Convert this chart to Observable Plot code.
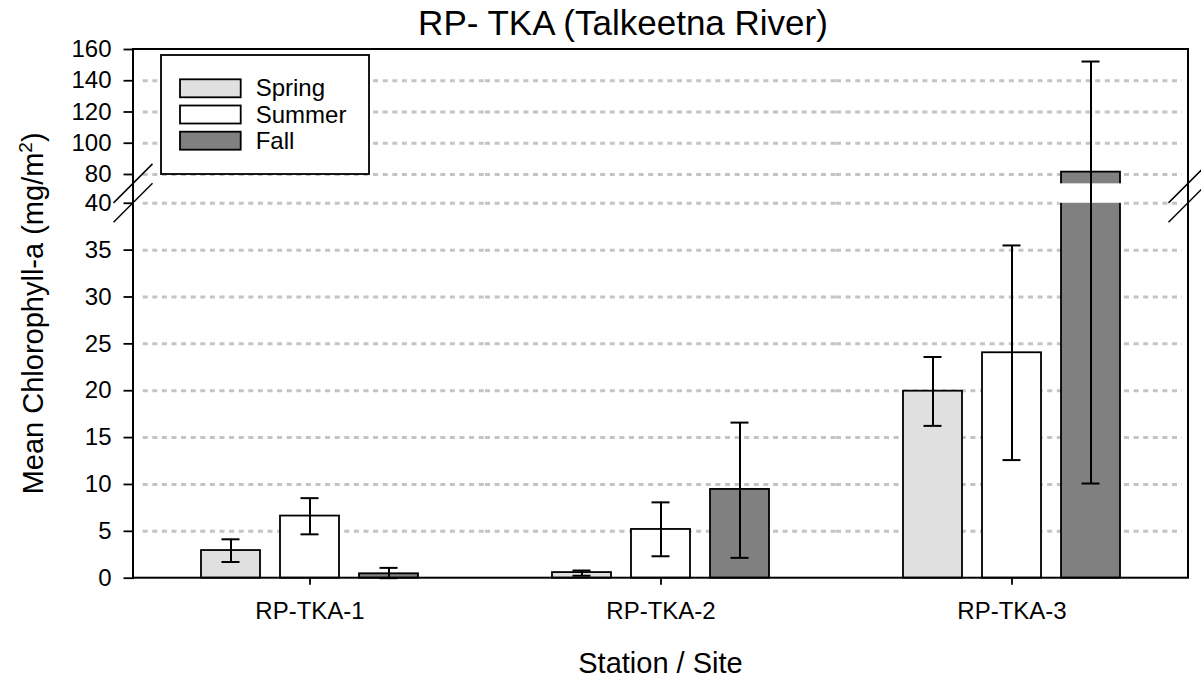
<!DOCTYPE html>
<html><head><meta charset="utf-8">
<script src="https://cdn.jsdelivr.net/npm/d3@7"></script>
<script src="https://cdn.jsdelivr.net/npm/@observablehq/plot@0.6"></script>
<style>
html,body{margin:0;padding:0;background:#fff;overflow:hidden;}
#chart{width:1201px;height:678px;}
</style></head><body><div id="chart"></div>
<script>
// ---- data ----
const stations = ["RP-TKA-1", "RP-TKA-2", "RP-TKA-3"];
const seasons = ["Spring", "Summer", "Fall"];
const seasonColors = ["#e0e0e0", "#ffffff", "#808080"];
const springMean = [2.95, 0.6, 19.95];
const springLow  = [1.73, 0.26, 16.25];
const springHigh = [4.15, 0.82, 23.6];
const summerMean = [6.63, 5.2, 24.05];
const summerLow  = [4.68, 2.34, 12.6];
const summerHigh = [8.54, 8.09, 35.5];
const fallMean = [0.47, 9.47, 81.5];
const fallLow  = [0, 2.17, 10.1];
const fallHigh = [1.1, 16.6, 152.3];
const yTicks = [0, 5, 10, 15, 20, 25, 30, 35, 40, 80, 100, 120, 140, 160];
const gridTicks = [5, 10, 15, 20, 25, 30, 35, 40, 80, 100, 120, 140];
const breakLow = 40, breakHigh = 74, yMax = 160;
const titleText = "RP- TKA (Talkeetna River)";
const xLabelText = "Station / Site";
const yLabelMain = "Mean Chlorophyll-a (mg/m";

// broken axis: upper segment compressed 6x, small gap between 40 and 74
const upperCompress = 6, gapUnits = 2.07;
const breakT = v => v <= breakLow ? v
  : v >= breakHigh ? breakLow + gapUnits + (v - breakHigh) / upperCompress
  : breakLow + (v - breakLow) * gapUnits / (breakHigh - breakLow);

// ---- build table ----
const series = [[springMean, springLow, springHigh], [summerMean, summerLow, summerHigh], [fallMean, fallLow, fallHigh]];
const rows = [];
series.forEach(([m, l, h], si) => stations.forEach((s, i) =>
  rows.push({station: s, season: seasons[si], mean: m[i], low: l[i], high: h[i]})));
const broken = rows.filter(d => d.mean > breakHigh);
const gridRows = stations.flatMap(s => gridTicks.map(v => ({station: s, v})));
const gridStyle = {fx: "station", y: "v", stroke: "#c4c4c4", strokeWidth: 3, strokeDasharray: "5 4.6"};

const plot = Plot.plot({
  width: 1201, height: 678,
  marginLeft: 133, marginRight: 13, marginTop: 49, marginBottom: 100.3,
  style: {fontFamily: '"Liberation Sans", Arial, sans-serif', fontSize: "24px", background: "#fff", color: "#000"},
  fx: {domain: stations, padding: 0},
  x: {domain: seasons, paddingInner: 0.25, paddingOuter: 0.823, axis: null},
  y: {type: "linear", transform: breakT, nice: false},
  color: {domain: seasons, range: seasonColors},
  marks: [
    Plot.ruleY(gridRows.filter(d => d.station === stations[0]), {...gridStyle, insetLeft: 8.7}),
    Plot.ruleY(gridRows.filter(d => d.station === stations[1]), gridStyle),
    Plot.ruleY(gridRows.filter(d => d.station === stations[2]), {...gridStyle, insetRight: 5}),
    Plot.barY(rows, {fx: "station", x: "season", y: "mean", fill: "season", stroke: "#000", strokeWidth: 1.8}),
    Plot.barY(broken, {fx: "station", x: "season", y1: breakLow, y2: breakHigh, fill: "#fff", insetLeft: -2, insetRight: -2}),
    Plot.ruleX(rows, {fx: "station", x: "season", y1: "low", y2: "high", stroke: "#000", strokeWidth: 2}),
    Plot.tickY(rows, {fx: "station", x: "season", y: "high", insetLeft: 20.5, insetRight: 20.5, stroke: "#000", strokeWidth: 2}),
    Plot.tickY(rows, {fx: "station", x: "season", y: "low", insetLeft: 20.5, insetRight: 20.5, stroke: "#000", strokeWidth: 2}),
    Plot.axisY(yTicks, {tickSize: 10.5, tickPadding: 12.5, strokeWidth: 1.8, label: null}),
    Plot.axisFx({anchor: "bottom", tickSize: 7, tickPadding: 17, strokeWidth: 1.8, label: null})
  ]
});
document.getElementById("chart").appendChild(plot);

// ---- decorations from the scales ----
const svg = d3.select(plot);
const ys = plot.scale("y");
const fxs = plot.scale("fx");
const [xL, xR] = fxs.range;
const Y = v => d3.scaleLinear().domain(ys.domain).range(ys.range)(breakT(v));
const yT = Y(yMax), yB = Y(0);
const g = svg.append("g");
g.append("rect").attr("x", xL).attr("y", yT).attr("width", xR - xL).attr("height", yB - yT)
  .attr("fill", "none").attr("stroke", "#000").attr("stroke-width", 2);
// axis break marks
const s = 19.5;
[xL, xR].forEach(x => [Y(breakHigh), Y(breakLow)].forEach(yc => {
  g.append("line").attr("x1", x - s).attr("y1", yc + s).attr("x2", x + s).attr("y2", yc - s)
    .attr("stroke", "#000").attr("stroke-width", 1.5);
}));
const font = '"Liberation Sans", Arial, sans-serif';
// title
g.append("text").attr("x", 623).attr("y", 34.5).attr("text-anchor", "middle")
  .attr("font-family", font).attr("font-size", 35).attr("fill", "#000").text(titleText);
// x label
g.append("text").attr("x", (xL + xR) / 2).attr("y", 672.5).attr("text-anchor", "middle")
  .attr("font-family", font).attr("font-size", 29).attr("fill", "#000").text(xLabelText);
// y label
const yl = g.append("text").attr("transform", `translate(43.3,${(yT + yB) / 2}) rotate(-90)`)
  .attr("text-anchor", "middle").attr("font-family", font).attr("font-size", 29).attr("fill", "#000");
yl.append("tspan").text(yLabelMain);
yl.append("tspan").attr("dy", -11).attr("font-size", 19).text("2");
yl.append("tspan").attr("dy", 11).text(")");
// legend
const color = plot.scale("color");
const lg = g.append("g");
lg.append("rect").attr("x", 161).attr("y", 55).attr("width", 208).attr("height", 119)
  .attr("fill", "#fff").attr("stroke", "#000").attr("stroke-width", 1.8);
seasons.forEach((sn, i) => {
  const y0 = 79.3 + i * 26.2;
  lg.append("rect").attr("x", 180).attr("y", y0).attr("width", 60.7).attr("height", 18)
    .attr("fill", color.apply(sn)).attr("stroke", "#000").attr("stroke-width", 1.8);
  lg.append("text").attr("x", 255.7).attr("y", y0 + 17).attr("text-anchor", "start").attr("font-family", font)
    .attr("font-size", 24).attr("fill", "#000").text(sn);
});
</script>
</body></html>
